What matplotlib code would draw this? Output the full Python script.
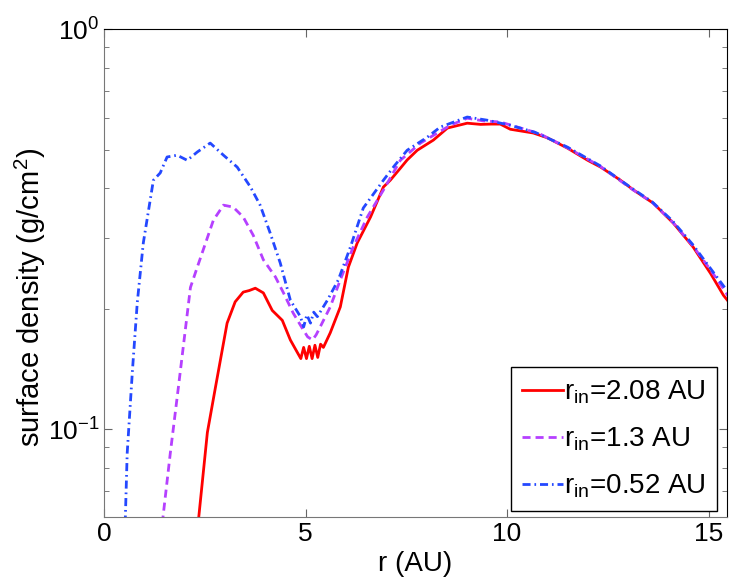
import matplotlib
matplotlib.use("Agg")
import matplotlib.pyplot as plt
from matplotlib.ticker import LogLocator, NullFormatter

plt.rcParams["font.family"] = ["Liberation Sans", "DejaVu Sans"]
plt.rcParams["mathtext.fontset"] = "custom"
plt.rcParams["mathtext.rm"] = "Liberation Sans"
plt.rcParams["mathtext.it"] = "Liberation Sans:italic"

# r_in = 2.08 AU
r_red = [2.33, 2.56, 2.76, 3.05, 3.25, 3.45, 3.60, 3.75, 3.95, 4.17, 4.42, 4.62,
         4.80, 4.88, 4.95, 5.02, 5.09, 5.16, 5.23, 5.30, 5.37, 5.44, 5.61, 5.86,
         6.06, 6.28, 6.61, 6.93, 7.10, 7.35, 7.52, 7.77, 8.17, 8.52, 9.01, 9.34,
         9.60, 9.83, 10.08, 10.65, 11.00, 11.50, 12.00, 12.32, 12.80, 13.14, 13.63,
         14.13, 14.62, 15.05, 15.37, 15.50]
s_red = [0.058, 0.098, 0.127, 0.184, 0.208, 0.220, 0.222, 0.225, 0.219, 0.198, 0.187, 0.167,
         0.155, 0.150, 0.160, 0.150, 0.161, 0.150, 0.162, 0.151, 0.163, 0.160, 0.174, 0.202,
         0.254, 0.292, 0.339, 0.403, 0.419, 0.449, 0.471, 0.498, 0.528, 0.566, 0.582, 0.578,
         0.579, 0.579, 0.562, 0.550, 0.535, 0.504, 0.470, 0.452, 0.420, 0.396, 0.367,
         0.327, 0.285, 0.245, 0.216, 0.208]

# r_in = 1.3 AU
r_pur = [1.44, 1.64, 1.84, 2.14, 2.31, 2.71, 2.96, 3.20, 3.45, 3.70, 3.95, 4.25,
         4.45, 4.69, 4.94, 5.05, 5.17, 5.26, 5.36, 5.61, 5.86, 6.18, 6.53, 6.93,
         7.35, 7.85, 8.59, 9.01, 9.40, 9.83, 10.26, 10.80, 11.50, 12.30, 13.10,
         13.60, 14.10, 14.60, 15.05, 15.40, 15.50]
s_pur = [0.058, 0.087, 0.127, 0.226, 0.254, 0.333, 0.363, 0.359, 0.339, 0.305, 0.265, 0.240,
         0.219, 0.195, 0.177, 0.170, 0.167, 0.172, 0.180, 0.202, 0.236, 0.285, 0.339, 0.396,
         0.470, 0.519, 0.575, 0.599, 0.590, 0.586, 0.569, 0.548, 0.505, 0.455, 0.398,
         0.369, 0.330, 0.288, 0.250, 0.222, 0.214]

# r_in = 0.52 AU
r_blu = [0.52, 0.57, 0.70, 0.82, 0.97, 1.22, 1.39, 1.56, 1.81, 2.06, 2.31, 2.63,
         2.96, 3.30, 3.63, 3.87, 4.12, 4.37, 4.62, 4.87, 4.95, 5.03, 5.12, 5.20,
         5.29, 5.54, 5.81, 6.11, 6.43, 6.93, 7.20, 7.52, 8.02, 8.34, 9.01, 9.51,
         10.08, 10.70, 11.50, 12.30, 13.10, 13.60, 14.10, 14.60, 15.05, 15.40, 15.50]
s_blu = [0.058, 0.087, 0.140, 0.207, 0.292, 0.419, 0.437, 0.479, 0.484, 0.470, 0.493, 0.519,
         0.484, 0.452, 0.403, 0.363, 0.309, 0.260, 0.210, 0.191, 0.180, 0.193, 0.184, 0.196,
         0.191, 0.210, 0.236, 0.285, 0.357, 0.419, 0.455, 0.498, 0.537, 0.569, 0.603, 0.592,
         0.575, 0.552, 0.507, 0.456, 0.400, 0.370, 0.332, 0.290, 0.252, 0.226, 0.222]

labels = [r"r$_{\rm in}$=2.08 AU", r"r$_{\rm in}$=1.3 AU", r"r$_{\rm in}$=0.52 AU"]

fig = plt.figure(figsize=(7.34, 5.84), dpi=100)
ax = fig.add_axes([0.142, 0.115, 0.848, 0.835])

ax.plot(r_red, s_red, color="#ff0000", lw=2.0, ls="-", label=labels[0])
ax.plot(r_pur, s_pur, color="#b540ff", lw=2.0, ls=(0, (2.9, 1.8)), label=labels[1])
ax.plot(r_blu, s_blu, color="#2448ff", lw=2.0, ls=(0, (2.9, 1.4, 0.6, 1.4)), label=labels[2])

ax.set_yscale("log")
ax.set_xlim(0, 15.45)
ax.set_ylim(0.0603, 1.0)
ax.set_xticks([0, 5, 10, 15])
ax.yaxis.set_major_locator(LogLocator(base=10))
ax.yaxis.set_minor_locator(LogLocator(base=10, subs=range(2, 10)))
ax.yaxis.set_minor_formatter(NullFormatter())

ax.set_xlabel("r (AU)", fontsize=20)
ax.set_ylabel(r"surface density (g/cm$^2$)", fontsize=21)
ax.yaxis.set_label_coords(-0.09, 0.45)

ax.tick_params(which="both", direction="in", top=True, right=True,
               labelsize=19, color="#666666")
ax.tick_params(which="major", length=6)
ax.tick_params(which="minor", length=3.5)
for side in ["left", "bottom"]:
    ax.spines[side].set_color("#777777")
for side in ["top", "right"]:
    ax.spines[side].set_color("black")

leg = ax.legend(loc="lower right", bbox_to_anchor=(0.984, 0.012), borderaxespad=0,
                fontsize=20, fancybox=False, framealpha=1, edgecolor="black",
                handlelength=1.45, handletextpad=0.05, labelspacing=0.7,
                borderpad=0.4)
leg.get_frame().set_linewidth(1.0)

fig.savefig("out.png", dpi=100)
